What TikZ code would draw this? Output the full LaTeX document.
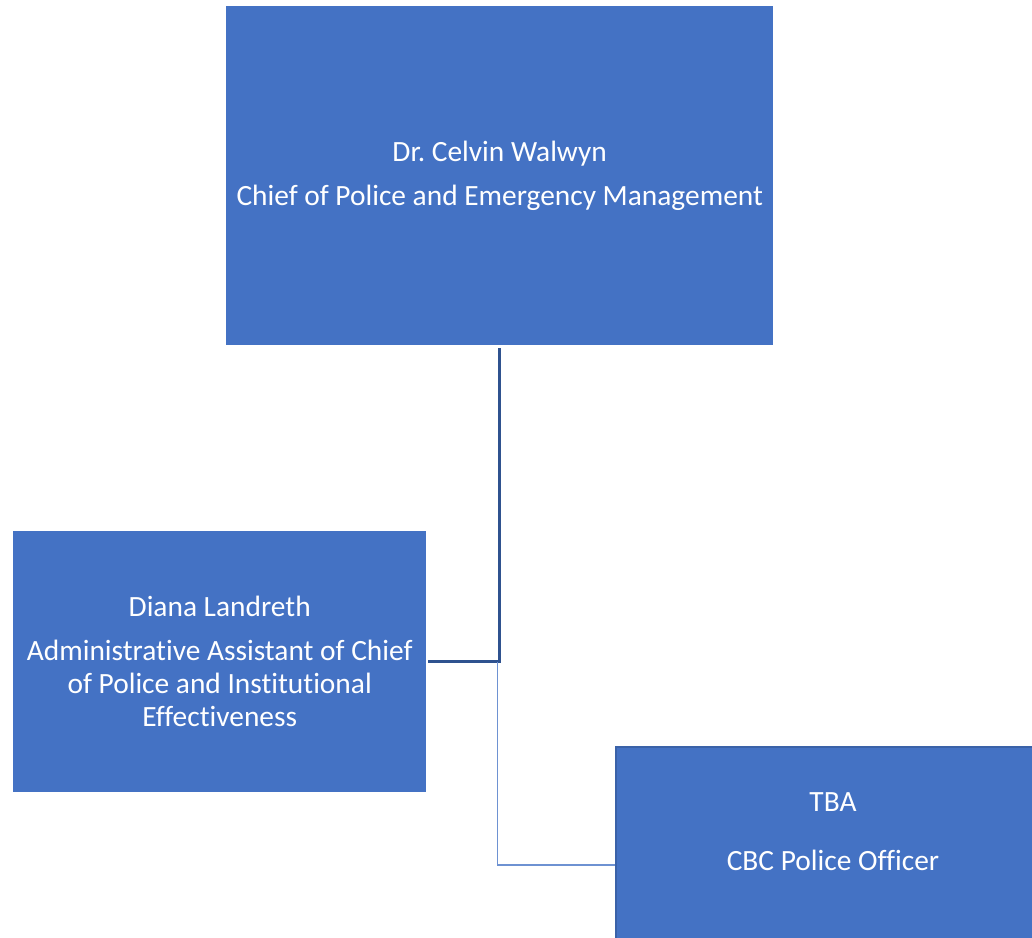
\documentclass[tikz,border=0pt]{standalone}
\usepackage{fontspec}
\setmainfont[Ligatures=NoCommon]{Carlito}
\usetikzlibrary{positioning}
\definecolor{boxblue}{HTML}{4472C4}
\definecolor{boxedge}{HTML}{3A62A8}
\definecolor{linedark}{HTML}{2F528F}
\definecolor{linelight}{HTML}{6E92D2}

\begin{document}
\begin{tikzpicture}[x=1pt, y=-1pt,
  post/.style={fill=boxblue, inner sep=0pt, anchor=north west},
  posttext/.style={text=white, inner sep=0pt, align=center, font=\fontsize{29.4}{33}\selectfont}]
  \useasboundingbox (0,0) rectangle (1032,937);
  \clip (0,0) rectangle (1032,937);

  % Boxes
  \node[post, minimum width=547pt, minimum height=339pt] (chief) at (226,6) {};
  \node[post, minimum width=413pt, minimum height=261pt] (assist) at (13,531) {};
  \node[post, draw=boxedge, line width=2pt, minimum width=434pt, minimum height=236pt] (officer) at (615,746) {};

  % Names and titles
  \node[posttext] (chieftext) at (chief.center) {Dr.\ Celvin Walwyn\\[11pt]Chief of Police and Emergency Management};
  \node[posttext] (assisttext) at (assist.center) {Diana Landreth\\[11pt]Administrative Assistant of Chief\\of Police and Institutional\\Effectiveness};
  \node[posttext, yshift=33pt] (officertext) at (officer.center) {TBA\\[26pt]CBC Police Officer};

  % Connectors
  \draw[linedark, line width=3pt] ([yshift=-3pt]chief.south) |- ([xshift=2pt]assist.east);
  \draw[linelight, line width=1.5pt] ([xshift=-2pt]chief.south |- assist.east) |- (officer.west);
\end{tikzpicture}
\end{document}
